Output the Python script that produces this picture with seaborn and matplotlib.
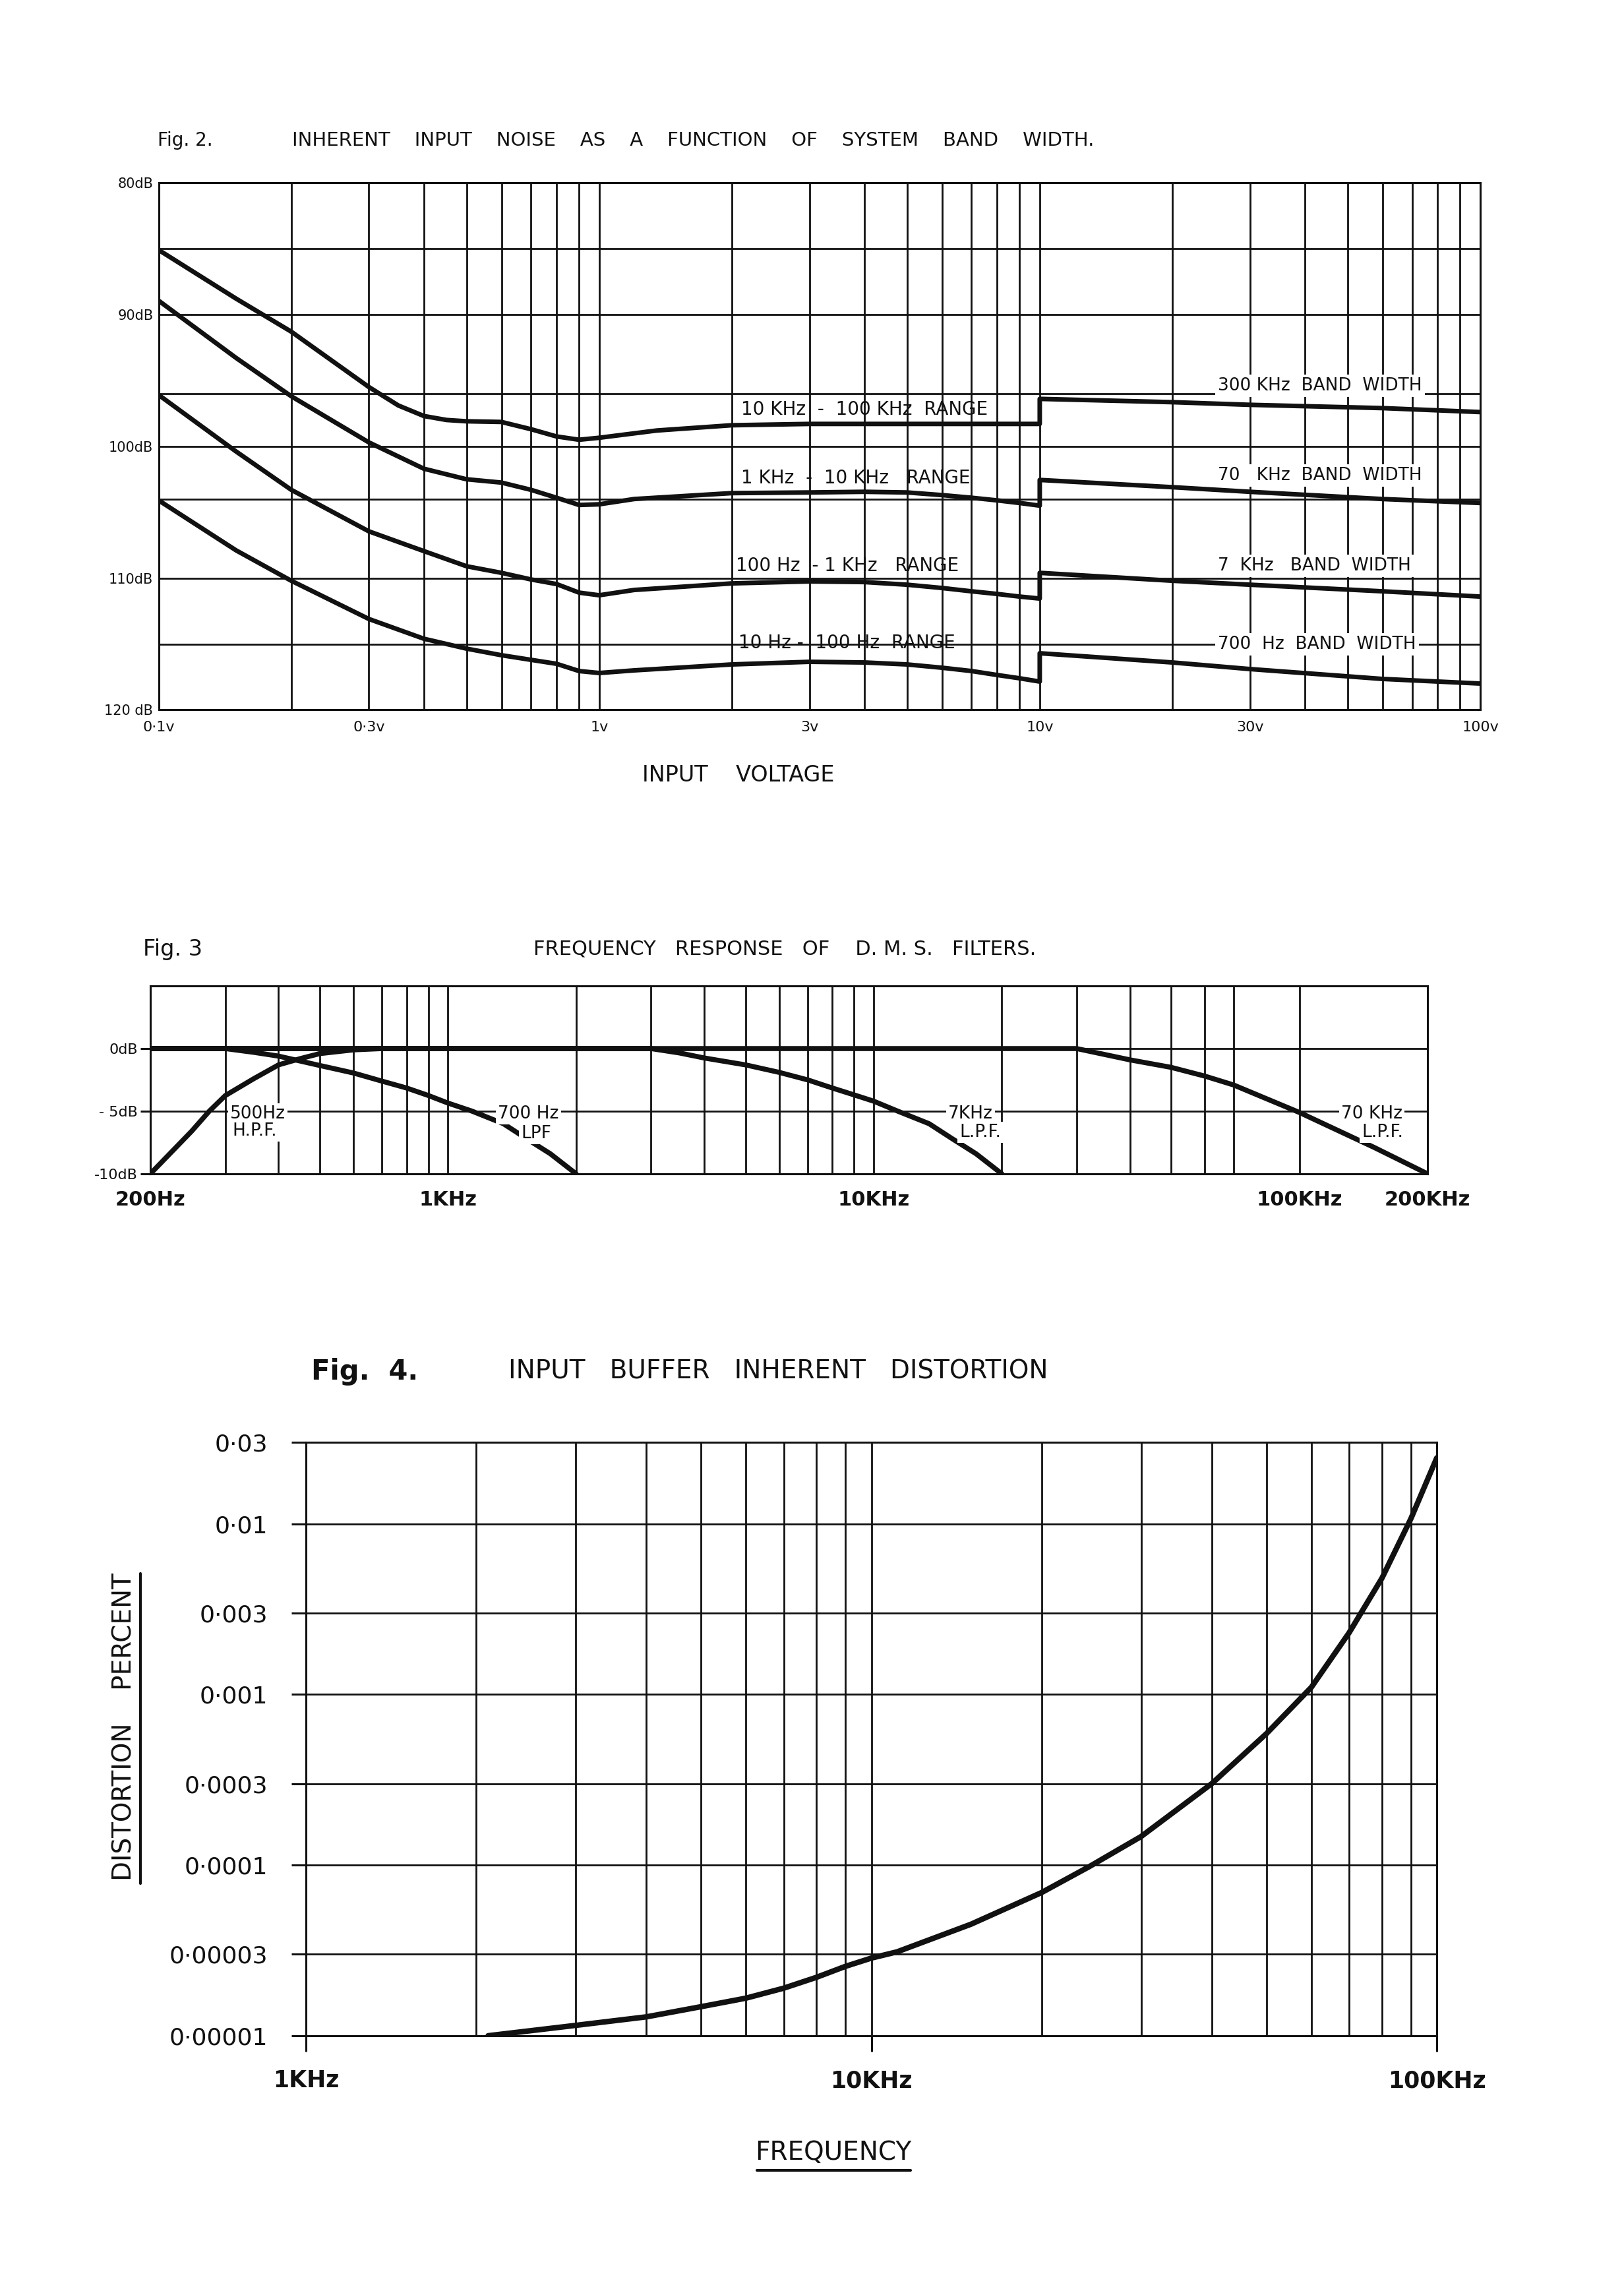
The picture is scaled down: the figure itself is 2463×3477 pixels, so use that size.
import matplotlib
matplotlib.use("Agg")
import matplotlib.pyplot as plt
from matplotlib.lines import Line2D
from matplotlib.ticker import FixedLocator, NullFormatter
import seaborn as sns

# ---------------- data ----------------
# Fig. 2 : inherent input noise (dB) against input voltage (v), one curve per range
volts_10k = [0.1, 0.15, 0.2, 0.3, 0.35, 0.4, 0.45, 0.5, 0.6, 0.7, 0.8, 0.9, 1.0, 1.35, 2, 3, 10, 10, 20, 30, 60, 100]
noise_10k = [85.1, 88.8, 91.3, 95.5, 96.9, 97.7, 98.0, 98.1, 98.15, 98.7, 99.25, 99.5, 99.35, 98.8, 98.4, 98.3, 98.3,
             96.4, 96.65, 96.85, 97.1, 97.4]
volts_low = [0.1, 0.15, 0.2, 0.3, 0.4, 0.5, 0.6, 0.7, 0.8, 0.9, 1.0, 1.2, 2, 3, 4, 5, 6, 7, 8, 9, 10, 10, 20, 30, 60, 100]
noise_1k = [88.95, 93.3, 96.2, 99.7, 101.7, 102.5, 102.75, 103.3, 103.9, 104.45, 104.4, 104.0, 103.55, 103.5, 103.45,
            103.5, 103.7, 103.9, 104.1, 104.3, 104.5, 102.55, 103.1, 103.45, 104.0, 104.3]
noise_100 = [96.1, 100.4, 103.3, 106.45, 107.95, 109.1, 109.6, 110.1, 110.45, 111.1, 111.3, 110.9, 110.4, 110.25,
             110.3, 110.5, 110.75, 111.0, 111.2, 111.4, 111.55, 109.6, 110.2, 110.5, 111.0, 111.4]
noise_10 = [104.1, 107.9, 110.2, 113.1, 114.6, 115.35, 115.85, 116.2, 116.5, 117.05, 117.2, 117.0, 116.55, 116.35,
            116.4, 116.55, 116.8, 117.05, 117.35, 117.6, 117.85, 115.7, 116.4, 116.9, 117.65, 118.0]

noise_ticks = [80, 90, 100, 110, 120]
noise_tick_labels = ["80dB", "90dB", "100dB", "110dB", "120 dB"]
noise_grid = [80, 85, 90, 96, 100, 104, 110, 115, 120]
volt_ticks = [0.1, 0.3, 1, 3, 10, 30, 100]
volt_labels = ["0·1v", "0·3v", "1v", "3v", "10v", "30v", "100v"]

# Fig. 3 : D.M.S. filter responses (dB) against frequency (Hz)
hpf500_hz = [200, 250, 275, 300, 350, 400, 450, 500, 600, 700]
hpf500_db = [-10, -6.6, -5.0, -3.75, -2.4, -1.3, -0.8, -0.4, -0.1, 0]
lpf700_hz = [200, 300, 350, 400, 500, 600, 700, 800, 900, 1000, 1140, 1350, 1530, 1740, 2000]
lpf700_db = [0, 0, -0.3, -0.6, -1.35, -1.95, -2.6, -3.15, -3.75, -4.35, -5.0, -6.0, -7.2, -8.4, -10]
lpf7k_hz = [200, 3000, 3500, 4000, 5000, 6000, 7000, 8000, 9000, 10000, 11400, 13500, 15300, 17400, 20000]
lpf7k_db = [0, 0, -0.35, -0.75, -1.3, -1.9, -2.5, -3.15, -3.7, -4.2, -5.0, -6.0, -7.2, -8.4, -10]
lpf70k_hz = [200, 30000, 40000, 50000, 60000, 70000, 100000, 150000, 200000]
lpf70k_db = [0, 0, -0.9, -1.5, -2.2, -2.9, -5.1, -7.9, -10]

filt_ticks = [200, 1000, 10000, 100000, 200000]
filt_labels = ["200Hz", "1KHz", "10KHz", "100KHz", "200KHz"]
filt_db_ticks = [0, -5, -10]
filt_db_labels = ["0dB", "- 5dB", "-10dB"]
filt_grid_hz = [300, 400, 500, 600, 700, 800, 900, 2000, 3000, 4000, 5000, 6000, 7000, 8000, 9000,
                20000, 30000, 40000, 50000, 60000, 70000]

# Fig. 4 : input buffer distortion (percent) against frequency (Hz)
dist_hz = [2100, 3000, 4000, 5000, 6000, 7000, 8000, 9000, 10000, 11100, 15000, 20000, 24300, 30000,
           40000, 50000, 60000, 70000, 80000, 90000, 100000]
dist_pct = [1.0e-5, 1.15e-5, 1.29e-5, 1.48e-5, 1.66e-5, 1.9e-5, 2.2e-5, 2.55e-5, 2.85e-5, 3.1e-5, 4.5e-5,
            6.9e-5, 9.8e-5, 1.47e-4, 3.0e-4, 5.9e-4, 1.1e-3, 2.3e-3, 4.8e-3, 1.07e-2, 2.43e-2]

dist_ticks = [1e-5, 3e-5, 1e-4, 3e-4, 1e-3, 3e-3, 1e-2, 3e-2]
dist_labels = ["0·00001", "0·00003", "0·0001", "0·0003", "0·001", "0·003", "0·01", "0·03"]
freq_ticks = [1000, 10000, 100000]
freq_labels = ["1KHz", "10KHz", "100KHz"]

# ---------------- style ----------------
sns.set_theme(style="white")
INK = "#111111"
plt.rcParams.update({
    "font.family": ["DejaVu Sans"],
    "axes.edgecolor": INK,
    "axes.linewidth": 2.2,
    "text.color": INK,
    "xtick.color": INK,
    "ytick.color": INK,
})

fig = plt.figure(figsize=(24.63, 34.77), dpi=100)
fig.patch.set_facecolor("white")


def at(x, y):
    # page position (measured on a 1111 x 1568 copy) -> figure fraction
    return x / 1111, 1 - y / 1568


def grid_on(ax, lw):
    ax.set_axisbelow(True)
    ax.grid(which="both", color=INK, lw=lw)


# ---------------- Fig. 2 ----------------
ax2 = fig.add_axes([0.0977, 0.6904, 0.8138, 0.2299])
ax2.set_xscale("log")
for xs, ys in [(volts_10k, noise_10k), (volts_low, noise_1k), (volts_low, noise_100), (volts_low, noise_10)]:
    sns.lineplot(x=xs, y=ys, ax=ax2, color=INK, lw=5, estimator=None, sort=False)
ax2.set_xlim(0.1, 100)
ax2.set_ylim(120, 80)
ax2.set_xticks(volt_ticks, labels=volt_labels)
ax2.xaxis.set_minor_formatter(NullFormatter())
lab = dict(zip(noise_ticks, noise_tick_labels))
ax2.set_yticks(noise_grid, labels=[lab.get(v, "") for v in noise_grid])
ax2.tick_params(which="both", length=0)
ax2.tick_params(axis="x", pad=12, labelsize=16)
ax2.tick_params(axis="y", pad=6, labelsize=15)
grid_on(ax2, 2)
ax2.set_xlabel("")
ax2.set_ylabel("")

range_style = dict(fontsize=20, va="center", ha="left")
ax2.text(2.1, 97.2, "10 KHz  -  100 KHz  RANGE", **range_style)
ax2.text(2.1, 102.4, "1 KHz  -  10 KHz   RANGE", **range_style)
ax2.text(2.04, 109.05, "100 Hz  - 1 KHz   RANGE", **range_style)
ax2.text(2.07, 114.9, "10 Hz -  100 Hz  RANGE", **range_style)
band_style = dict(fontsize=19, va="center", ha="left",
                  bbox=dict(boxstyle="square,pad=0.15", fc="white", ec="none"))
ax2.text(25.4, 95.4, "300 KHz  BAND  WIDTH", **band_style)
ax2.text(25.4, 102.2, "70   KHz  BAND  WIDTH", **band_style)
ax2.text(25.4, 109.05, "7  KHz   BAND  WIDTH", **band_style)
ax2.text(25.4, 115.0, "700  Hz  BAND  WIDTH", **band_style)

fig.text(*at(108, 96), "Fig. 2.", fontsize=20, va="center")
fig.text(*at(200, 96), "INHERENT    INPUT    NOISE    AS    A    FUNCTION    OF    SYSTEM    BAND    WIDTH.",
         fontsize=21, va="center")
fig.text(*at(505, 530), "INPUT    VOLTAGE", fontsize=24, va="center", ha="center")

# ---------------- Fig. 3 ----------------
ax3 = fig.add_axes([0.0926, 0.4881, 0.7864, 0.0819])
ax3.set_xscale("log")
for xs, ys in [(hpf500_hz, hpf500_db), (lpf700_hz, lpf700_db), (lpf7k_hz, lpf7k_db), (lpf70k_hz, lpf70k_db)]:
    sns.lineplot(x=xs, y=ys, ax=ax3, color=INK, lw=5.5, estimator=None, sort=False)
ax3.set_xlim(200, 200000)
ax3.set_ylim(-10, 5)
ax3.set_xticks(filt_ticks, labels=filt_labels)
ax3.xaxis.set_minor_locator(FixedLocator(filt_grid_hz))
ax3.xaxis.set_minor_formatter(NullFormatter())
ax3.set_yticks(filt_db_ticks, labels=filt_db_labels)
ax3.tick_params(which="both", length=0)
ax3.tick_params(axis="x", pad=18, labelsize=22)
for t in ax3.get_xticklabels():
    t.set_fontweight("bold")
ax3.tick_params(axis="y", left=True, length=11, width=2.2, pad=3, labelsize=16)
grid_on(ax3, 2)
ax3.set_xlabel("")
ax3.set_ylabel("")

filt_style = dict(fontsize=19, va="center", ha="center",
                  bbox=dict(boxstyle="square,pad=0.12", fc="white", ec="none"))
ax3.text(358, -5.2, "500Hz", **filt_style)
ax3.text(352, -6.6, "H.P.F.", **filt_style)
ax3.text(1545, -5.2, "700 Hz", **filt_style)
ax3.text(1614, -6.8, "LPF", **filt_style)
ax3.text(16900, -5.2, "7KHz", **filt_style)
ax3.text(17800, -6.7, "L.P.F.", **filt_style)
ax3.text(148000, -5.2, "70 KHz", **filt_style)
ax3.text(157000, -6.7, "L.P.F.", **filt_style)

fig.text(*at(98, 649), "Fig. 3", fontsize=24, va="center")
fig.text(*at(365, 649), "FREQUENCY   RESPONSE   OF    D. M. S.   FILTERS.", fontsize=22, va="center")

# ---------------- Fig. 4 ----------------
ax4 = fig.add_axes([0.1884, 0.1122, 0.6963, 0.2588])
ax4.set_xscale("log")
ax4.set_yscale("log")
sns.lineplot(x=dist_hz, y=dist_pct, ax=ax4, color=INK, lw=6, estimator=None, sort=False)
ax4.set_xlim(1000, 100000)
ax4.set_ylim(1e-5, 3e-2)
ax4.set_xticks(freq_ticks, labels=freq_labels)
ax4.xaxis.set_minor_formatter(NullFormatter())
ax4.set_yticks(dist_ticks, labels=dist_labels)
ax4.yaxis.set_minor_locator(FixedLocator([]))
ax4.tick_params(which="minor", length=0)
ax4.tick_params(axis="x", which="major", bottom=True, length=17, width=2.2, pad=20, labelsize=25)
for t in ax4.get_xticklabels():
    t.set_fontweight("bold")
ax4.tick_params(axis="y", which="major", left=True, length=16, width=2.2, pad=26, labelsize=26)
grid_on(ax4, 2)
ax4.set_xlabel("")
ax4.set_ylabel("")

fig.text(*at(213, 938), "Fig.  4.", fontsize=30, fontweight="bold", va="center")
fig.text(*at(348, 938), "INPUT   BUFFER   INHERENT   DISTORTION", fontsize=28, va="center")
fig.text(*at(570, 1472), "FREQUENCY", fontsize=28, va="center", ha="center")
fig.add_artist(Line2D([518 / 1111, 623 / 1111], [1 - 1484 / 1568] * 2, transform=fig.transFigure, color=INK, lw=3))
fig.text(*at(85, 1181), "DISTORTION    PERCENT", fontsize=28, va="center", ha="center", rotation=90)
fig.add_artist(Line2D([96 / 1111] * 2, [1 - 1288 / 1568, 1 - 1076 / 1568], transform=fig.transFigure, color=INK, lw=3))

fig.savefig("out.png", dpi=100, facecolor="white")
